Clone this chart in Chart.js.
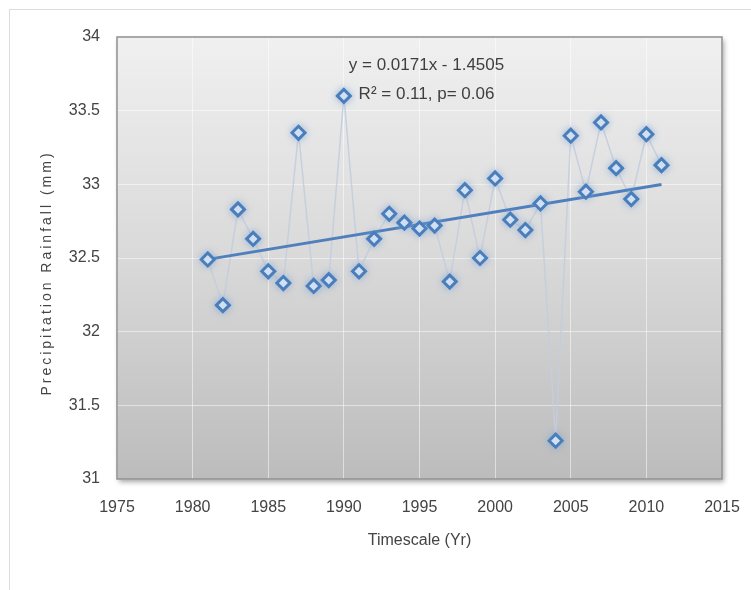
<!DOCTYPE html>
<html>
<head>
<meta charset="utf-8">
<script src="https://cdn.jsdelivr.net/npm/chart.js@4.4.1/dist/chart.umd.min.js"></script>
<style>
  html, body { margin: 0; padding: 0; background: #ffffff; }
  #wrap { position: relative; width: 751px; height: 590px; overflow: hidden; }
  #frame { position: absolute; left: 9px; top: 9px; width: 800px; height: 700px;
           border: 1px solid #dcdcdc; box-sizing: border-box; pointer-events: none; }
  canvas { position: absolute; left: 0; top: 0; }
</style>
</head>
<body>
<div id="wrap">
  <div id="frame"></div>
  <canvas id="chart" width="751" height="590"></canvas>
</div>
<script>
// Annual precipitation, 1981-2011
const years = [1981, 1982, 1983, 1984, 1985, 1986, 1987, 1988, 1989, 1990,
               1991, 1992, 1993, 1994, 1995, 1996, 1997, 1998, 1999, 2000,
               2001, 2002, 2003, 2004, 2005, 2006, 2007, 2008, 2009, 2010, 2011];
const rainfall = [32.49, 32.18, 32.83, 32.63, 32.41, 32.33, 33.35, 32.31, 32.35, 33.60,
                  32.41, 32.63, 32.80, 32.74, 32.70, 32.72, 32.34, 32.96, 32.50, 33.04,
                  32.76, 32.69, 32.87, 31.26, 33.33, 32.95, 33.42, 33.11, 32.90, 33.34, 33.13];

// Axis ticks
const xTicks = [1975, 1980, 1985, 1990, 1995, 2000, 2005, 2010, 2015];
const yTicks = [31, 31.5, 32, 32.5, 33, 33.5, 34];

// Labels
const xTitle = 'Timescale (Yr)';
const yTitle = 'Precipitation Rainfall (mm)';
const fitLines = ['y = 0.0171x - 1.4505', 'R\u00B2 = 0.11, p= 0.06'];

// Least-squares linear trend through the series
function linearFit(xs, ys) {
  const n = xs.length;
  const mx = xs.reduce((a, b) => a + b, 0) / n;
  const my = ys.reduce((a, b) => a + b, 0) / n;
  let sxy = 0, sxx = 0;
  for (let i = 0; i < n; i++) {
    sxy += (xs[i] - mx) * (ys[i] - my);
    sxx += (xs[i] - mx) * (xs[i] - mx);
  }
  const slope = sxy / sxx;
  return { slope, intercept: my - slope * mx };
}
const fit = linearFit(years, rainfall);
const firstYear = years[0], lastYear = years[years.length - 1];
const trendPoints = [
  { x: firstYear, y: fit.intercept + fit.slope * firstYear },
  { x: lastYear,  y: fit.intercept + fit.slope * lastYear }
];
const seriesPoints = years.map((yr, i) => ({ x: yr, y: rainfall[i] }));

const FONT = "'Liberation Sans', Arial, sans-serif";
const TEXT = '#444444';

// Plot background with gradient and drop shadow, border, annotation and titles
const plotDecor = {
  id: 'plotDecor',
  beforeDraw(chart) {
    const { ctx, chartArea: a } = chart;
    ctx.save();
    const g = ctx.createLinearGradient(0, a.top, 0, a.bottom);
    g.addColorStop(0, '#f0f0f0');
    g.addColorStop(0.5, '#d9d9d9');
    g.addColorStop(1, '#bcbcbc');
    ctx.shadowColor = 'rgba(0,0,0,0.35)';
    ctx.shadowBlur = 5;
    ctx.shadowOffsetX = 2;
    ctx.shadowOffsetY = 3;
    ctx.fillStyle = g;
    ctx.fillRect(a.left, a.top, a.right - a.left, a.bottom - a.top);
    ctx.restore();
  },
  beforeDatasetsDraw(chart) {
    const { ctx, chartArea: a } = chart;
    ctx.save();
    ctx.strokeStyle = '#8f8f8f';
    ctx.lineWidth = 1.5;
    ctx.strokeRect(a.left, a.top, a.right - a.left, a.bottom - a.top);
    ctx.restore();
  },
  beforeDatasetDraw(chart, args) {
    if (args.index === 0) {
      const ctx = chart.ctx;
      ctx.save();
      ctx.shadowColor = 'rgba(120,160,215,0.6)';
      ctx.shadowBlur = 7;
    }
  },
  afterDatasetDraw(chart, args) {
    if (args.index === 0) chart.ctx.restore();
  },
  afterDraw(chart) {
    const { ctx, chartArea: a } = chart;
    const cx = (a.left + a.right) / 2;
    ctx.save();
    ctx.fillStyle = '#3f3f3f';
    ctx.textAlign = 'center';
    ctx.textBaseline = 'middle';
    ctx.font = '17px ' + FONT;
    ctx.fillText(fitLines[0], cx + 7, a.top + 28);
    ctx.fillText(fitLines[1], cx + 7, a.top + 57);

    // x-axis title
    ctx.fillStyle = TEXT;
    ctx.font = '16px ' + FONT;
    ctx.fillText(xTitle, cx, a.bottom + 62);

    // y-axis title, rotated and letter-spaced
    ctx.translate(47, (a.top + a.bottom) / 2 + 15);
    ctx.rotate(-Math.PI / 2);
    ctx.font = '14px ' + FONT;
    if ('letterSpacing' in ctx) ctx.letterSpacing = '3px';
    ctx.fillText(yTitle, 0, 0);
    ctx.restore();
  }
};

new Chart(document.getElementById('chart'), {
  type: 'scatter',
  data: {
    datasets: [
      {
        label: 'markers',
        data: seriesPoints,
        showLine: false,
        pointStyle: 'rectRot',
        pointRadius: 6.5,
        pointBorderWidth: 3,
        pointBorderColor: '#4a7ebb',
        pointBackgroundColor: '#f4f8ff'
      },
      {
        label: 'trend',
        data: trendPoints,
        showLine: true,
        borderColor: '#4f7fbd',
        borderWidth: 3,
        pointRadius: 0
      },
      {
        label: 'series',
        data: seriesPoints,
        showLine: true,
        borderColor: 'rgba(196,205,222,0.9)',
        borderWidth: 1.5,
        pointRadius: 0
      }
    ]
  },
  options: {
    responsive: false,
    animation: false,
    events: [],
    layout: { padding: { left: 0, right: 29, top: 37, bottom: 0 } },
    plugins: {
      legend: { display: false },
      tooltip: { enabled: false },
      title: { display: false }
    },
    scales: {
      x: {
        type: 'linear',
        min: xTicks[0],
        max: xTicks[xTicks.length - 1],
        afterBuildTicks(scale) { scale.ticks = xTicks.map(v => ({ value: v })); },
        afterFit(scale) {
          scale.height = 111;
          scale.paddingLeft = 0;
          scale.paddingRight = 0;
        },
        border: { display: false },
        grid: { color: 'rgba(255,255,255,0.5)', lineWidth: 1, drawTicks: false },
        ticks: {
          padding: 19,
          color: TEXT,
          font: { family: FONT, size: 16 },
          callback: v => String(v)
        }
      },
      y: {
        type: 'linear',
        min: yTicks[0],
        max: yTicks[yTicks.length - 1],
        afterBuildTicks(scale) { scale.ticks = yTicks.map(v => ({ value: v })); },
        afterFit(scale) {
          scale.width = 117;
          scale.paddingTop = 0;
          scale.paddingBottom = 0;
        },
        border: { display: false },
        grid: { color: 'rgba(255,255,255,0.5)', lineWidth: 1, drawTicks: false },
        ticks: {
          padding: 17,
          color: TEXT,
          font: { family: FONT, size: 16 },
          callback: v => String(v)
        }
      }
    }
  },
  plugins: [plotDecor]
});
</script>
</body>
</html>
